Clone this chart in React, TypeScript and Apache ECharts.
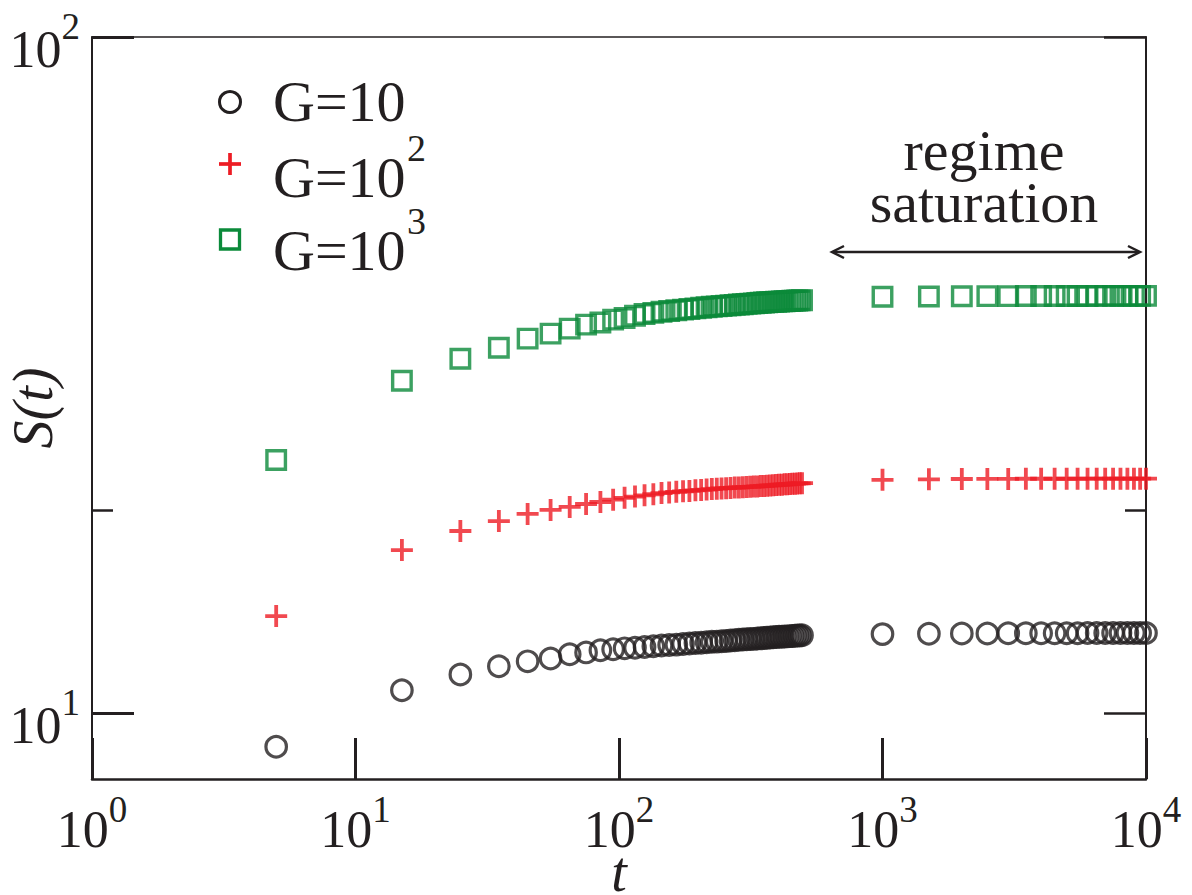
import React, { useEffect, useRef } from 'react';
import * as echarts from 'echarts';

// time steps t
const times = [
  5, 15, 25, 35, 45, 55, 65, 75, 85, 95,
  105, 115, 125, 135, 145, 155, 165, 175, 185, 195,
  205, 215, 225, 235, 245, 255, 265, 275, 285, 295,
  305, 315, 325, 335, 345, 355, 365, 375, 385, 395,
  405, 415, 425, 435, 445, 455, 465, 475, 485, 495,
  1000, 1500, 2000, 2500, 3000, 3500, 4000, 4500, 5000, 5500,
  6000, 6500, 7000, 7500, 8000, 8500, 9000, 9500, 10000,
];

// S(t) for G = 10
const sG10 = [
  8.93, 10.82, 11.42, 11.74, 11.94, 12.06, 12.23, 12.31, 12.40, 12.44,
  12.48, 12.51, 12.54, 12.57, 12.60, 12.62, 12.64, 12.67, 12.69, 12.71,
  12.72, 12.74, 12.76, 12.77, 12.79, 12.80, 12.82, 12.83, 12.85, 12.86,
  12.87, 12.88, 12.89, 12.91, 12.92, 12.93, 12.94, 12.95, 12.96, 12.97,
  12.98, 12.98, 12.99, 13.00, 13.01, 13.02, 13.03, 13.04, 13.04, 13.05,
  13.10, 13.12, 13.13, 13.13, 13.14, 13.14, 13.14, 13.14, 13.14, 13.14,
  13.15, 13.15, 13.15, 13.15, 13.15, 13.15, 13.15, 13.15, 13.15,
];

// S(t) for G = 10^2
const sG100 = [
  13.93, 17.44, 18.61, 19.25, 19.72, 19.99, 20.20, 20.40, 20.54, 20.70,
  20.83, 20.92, 21.01, 21.09, 21.17, 21.22, 21.26, 21.30, 21.33, 21.37,
  21.40, 21.43, 21.46, 21.49, 21.51, 21.53, 21.55, 21.57, 21.58, 21.60,
  21.62, 21.63, 21.65, 21.66, 21.68, 21.69, 21.71, 21.73, 21.74, 21.76,
  21.78, 21.79, 21.81, 21.82, 21.84, 21.85, 21.86, 21.88, 21.89, 21.90,
  22.15, 22.19, 22.21, 22.22, 22.22, 22.23, 22.23, 22.23, 22.23, 22.23,
  22.24, 22.24, 22.24, 22.24, 22.24, 22.24, 22.24, 22.24, 22.24,
];

// S(t) for G = 10^3
const sG1000 = [
  23.70, 31.04, 33.45, 34.73, 35.82, 36.43, 37.06, 37.57, 37.83, 38.21,
  38.43, 38.72, 38.95, 39.10, 39.25, 39.35, 39.45, 39.54, 39.62, 39.70,
  39.78, 39.85, 39.92, 39.98, 40.03, 40.08, 40.13, 40.18, 40.23, 40.27,
  40.31, 40.35, 40.39, 40.43, 40.47, 40.51, 40.54, 40.56, 40.59, 40.61,
  40.63, 40.66, 40.68, 40.70, 40.72, 40.74, 40.76, 40.78, 40.80, 40.82,
  41.30, 41.35, 41.38, 41.40, 41.40, 41.41, 41.41, 41.42, 41.42, 41.42,
  41.42, 41.43, 41.43, 41.43, 41.43, 41.43, 41.43, 41.43, 41.43,
];

const yMajorTicks = [10, 100];
const yMinorTicks = [20];
const legendMain = ['G=10', 'G=10', 'G=10'];
const legendSup = ['', '2', '3'];
const annotationText = 'regime\nsaturation';

const BLACK = '#231f20';
const RED = '#ed1c24';
const GREEN = '#0b8a3a';
const FONT = "'Liberation Serif', 'Times New Roman', 'DejaVu Serif', serif";

const pow10 = (v: number) => Math.round(Math.log10(v));

export default function App() {
  const ref = useRef<HTMLDivElement>(null);
  useEffect(() => {
    const chart = echarts.init(ref.current as HTMLDivElement, null, { renderer: 'svg' });

    const xRich = {
      b: { fontFamily: FONT, fontSize: 52, color: BLACK, lineHeight: 46 },
      s: { fontFamily: FONT, fontSize: 37, color: BLACK, lineHeight: 37, padding: [0, 0, 40, 0] },
    };
    const yRich = {
      b: { fontFamily: FONT, fontSize: 52, color: BLACK, lineHeight: 60, padding: [24, 0, 0, 0] },
      s: { fontFamily: FONT, fontSize: 37, color: BLACK, lineHeight: 37, padding: [0, 0, 22, 0] },
    };

    const baseY = {
      type: 'log',
      logBase: 10,
      min: 8,
      max: 100,
      splitLine: { show: false },
      minorTick: { show: false },
      minorSplitLine: { show: false },
    };

    const mkData = (vals: number[]) => times.map((t, i) => [t, vals[i]]);

    const legendY = [101, 177, 250];
    const graphic: any[] = [
      { type: 'circle', shape: { cx: 230, cy: 102, r: 10.5 }, style: { fill: 'none', stroke: BLACK, lineWidth: 3 } },
      { type: 'line', shape: { x1: 219, y1: 164, x2: 241, y2: 164 }, style: { stroke: RED, lineWidth: 3.7 } },
      { type: 'line', shape: { x1: 230, y1: 153, x2: 230, y2: 175 }, style: { stroke: RED, lineWidth: 3.7 } },
      { type: 'rect', shape: { x: 220.5, y: 230, width: 19, height: 19 }, style: { fill: 'none', stroke: GREEN, lineWidth: 3.3 } },
    ];
    legendMain.forEach((txt, i) => {
      graphic.push({
        type: 'text', x: 273, y: legendY[i],
        style: { text: txt, fill: BLACK, fontFamily: FONT, fontSize: 58, align: 'left', verticalAlign: 'middle' },
      });
      if (legendSup[i]) {
        graphic.push({
          type: 'text', x: 407, y: legendY[i] - 29,
          style: { text: legendSup[i], fill: BLACK, fontFamily: FONT, fontSize: 38, align: 'left', verticalAlign: 'middle' },
        });
      }
    });
    graphic.push({
      type: 'text', x: 984, y: 176,
      style: { text: annotationText, fill: BLACK, fontFamily: FONT, fontSize: 58, lineHeight: 52, align: 'center', verticalAlign: 'middle' },
    });
    graphic.push(
      { type: 'line', shape: { x1: 833, y1: 252, x2: 1139, y2: 252 }, style: { stroke: BLACK, lineWidth: 2.5 } },
      { type: 'polyline', shape: { points: [[844, 246], [832, 252], [844, 258]] }, style: { stroke: BLACK, lineWidth: 2.5, fill: 'none' } },
      { type: 'polyline', shape: { points: [[1128, 246], [1140, 252], [1128, 258]] }, style: { stroke: BLACK, lineWidth: 2.5, fill: 'none' } },
    );

    const option: any = {
      animation: false,
      backgroundColor: '#ffffff',
      grid: { left: 92, top: 37, right: 46, bottom: 116, outerBoundsMode: 'none', containLabel: false },
      xAxis: [
        {
          type: 'log', logBase: 10, min: 1, max: 10000, position: 'bottom',
          name: 't', nameLocation: 'middle', nameGap: 75, nameMoveOverlap: false,
          nameTextStyle: { fontFamily: FONT, fontStyle: 'italic', fontSize: 56, lineHeight: 36, color: BLACK },
          axisLine: { show: true, onZero: false, lineStyle: { color: BLACK, width: 2.5 } },
          axisTick: { show: true, inside: true, length: 41, lineStyle: { color: BLACK, width: 3 } },
          axisLabel: { margin: 27, formatter: (v: number) => `{b|10}{s|${pow10(v)}}`, rich: xRich },
          splitLine: { show: false }, minorTick: { show: false }, minorSplitLine: { show: false },
        },
        {
          type: 'log', logBase: 10, min: 1, max: 10000, position: 'top',
          axisLine: { show: true, onZero: false, lineStyle: { color: BLACK, width: 1.5 } },
          axisTick: { show: false }, axisLabel: { show: false },
          splitLine: { show: false }, minorTick: { show: false },
        },
      ],
      yAxis: [
        {
          ...baseY, position: 'left',
          name: 'S(t)', nameLocation: 'middle', nameGap: 31, nameMoveOverlap: false,
          nameTextStyle: { fontFamily: FONT, fontStyle: 'italic', fontSize: 56, color: BLACK },
          axisLine: { show: true, onZero: false, lineStyle: { color: BLACK, width: 2 } },
          axisTick: { show: true, inside: true, length: 42, customValues: yMajorTicks, lineStyle: { color: BLACK, width: 3 } },
          axisLabel: { customValues: yMajorTicks, margin: 12, formatter: (v: number) => `{b|10}{s|${pow10(v)}}`, rich: yRich },
        },
        {
          ...baseY, position: 'left',
          axisLine: { show: false, onZero: false },
          axisTick: { show: true, inside: true, length: 21, customValues: yMinorTicks, lineStyle: { color: BLACK, width: 2.5 } },
          axisLabel: { show: false },
        },
        {
          ...baseY, position: 'right',
          axisLine: { show: true, onZero: false, lineStyle: { color: BLACK, width: 2 } },
          axisTick: { show: true, inside: true, length: 42, customValues: yMajorTicks, lineStyle: { color: BLACK, width: 2.5 } },
          axisLabel: { show: false },
        },
        {
          ...baseY, position: 'right',
          axisLine: { show: false, onZero: false },
          axisTick: { show: true, inside: true, length: 21, customValues: yMinorTicks, lineStyle: { color: BLACK, width: 2.5 } },
          axisLabel: { show: false },
        },
      ],
      series: [
        {
          name: 'G=10', type: 'scatter', xAxisIndex: 0, yAxisIndex: 0, clip: false,
          symbol: 'circle', symbolSize: 20.5,
          itemStyle: { color: 'rgba(0,0,0,0)', borderColor: BLACK, borderWidth: 3.2 },
          data: mkData(sG10),
        },
        {
          name: 'G=10^2', type: 'scatter', xAxisIndex: 0, yAxisIndex: 0, clip: false,
          symbol: 'path://M0,11L22,11M11,0L11,22', symbolSize: 22,
          itemStyle: { color: 'rgba(0,0,0,0)', borderColor: RED, borderWidth: 3.8 },
          data: mkData(sG100),
        },
        {
          name: 'G=10^3', type: 'scatter', xAxisIndex: 0, yAxisIndex: 0, clip: false,
          symbol: 'rect', symbolSize: 18.5,
          itemStyle: { color: 'rgba(0,0,0,0)', borderColor: GREEN, borderWidth: 3.4 },
          data: mkData(sG1000),
        },
      ],
      graphic,
    };
    chart.setOption(option);
    return () => chart.dispose();
  }, []);
  return (
    <div
      ref={ref}
      style={{ position: 'absolute', left: 0, top: 0, width: 1192, height: 895, background: '#fff' }}
    />
  );
}
